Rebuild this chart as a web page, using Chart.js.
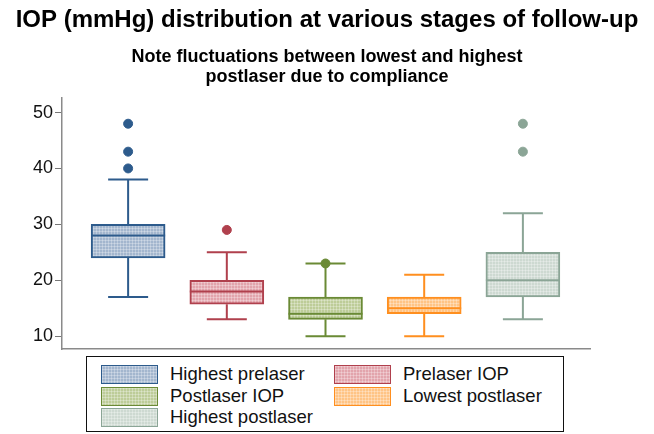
<!DOCTYPE html>
<html>
<head>
<meta charset="utf-8">
<script src="https://cdn.jsdelivr.net/npm/chart.js@4"></script>
<style>
  body { margin: 0; background: #fff; font-family: "Liberation Sans", Arial, sans-serif; }
  #wrap { position: relative; width: 654px; height: 434px; }
  #chart { position: absolute; left: 0; top: 0; }
  #legend {
    position: absolute; left: 86px; top: 356px; width: 478px; height: 76px;
    border: 1.5px solid #111; box-sizing: border-box; background: #fff;
  }
  .item { position: absolute; height: 20px; font-size: 18.5px; color: #111; line-height: 20px; white-space: nowrap; }
  .sw { position: absolute; left: 0; top: 1px; width: 57px; height: 19px; box-sizing: border-box; border: 1.5px solid; }
  .lbl { position: absolute; left: 69px; top: 0; }
</style>
</head>
<body>
<div id="wrap">
  <canvas id="chart" width="654" height="434"></canvas>
  <div id="legend"></div>
</div>
<script>
// Données
const groups = ['Highest prelaser', 'Prelaser IOP', 'Postlaser IOP', 'Lowest postlaser', 'Highest postlaser'];
const whiskerLow = [17, 13, 10, 10, 13];
const q1 = [24, 15.7, 13, 14, 17];
const median = [28, 18, 14, 15, 20];
const q3 = [30, 20, 17, 17, 25];
const whiskerHigh = [38, 25, 23, 21, 32];
const outliers = [[40, 43, 48], [29], [23], [], [43, 48]];
const yTicks = [10, 20, 30, 40, 50];

const strokeColors = ['#2d5b8c', '#b0404d', '#6a8a35', '#ff8f1f', '#8ba596'];
const fillColors = ['#a3b6ce', '#e2a4ac', '#bdcc98', '#ffc485', '#cdd9d1'];

// Motif quadrillé pour le remplissage des boîtes
function makePattern(color) {
    const c = document.createElement('canvas');
    c.width = 3; c.height = 3;
    const g = c.getContext('2d');
    g.fillStyle = color;
    g.fillRect(0, 0, 3, 3);
    g.fillStyle = 'rgba(255,255,255,0.28)';
    g.fillRect(0, 0, 3, 1);
    g.fillRect(0, 0, 1, 3);
    return g.createPattern(c, 'repeat');
}
const patterns = fillColors.map(makePattern);

// Moustaches (derrière) et médianes (devant)
const boxPlotLines = {
    id: 'boxPlotLines',
    beforeDatasetsDraw(chart) {
        const { ctx, scales: { x, y } } = chart;
        ctx.save();
        ctx.lineWidth = 2;
        groups.forEach((g, i) => {
            const cx = x.getPixelForValue(i);
            ctx.strokeStyle = strokeColors[i];
            ctx.beginPath();
            ctx.moveTo(cx, y.getPixelForValue(whiskerLow[i]));
            ctx.lineTo(cx, y.getPixelForValue(q1[i]));
            ctx.moveTo(cx, y.getPixelForValue(q3[i]));
            ctx.lineTo(cx, y.getPixelForValue(whiskerHigh[i]));
            [whiskerLow[i], whiskerHigh[i]].forEach(v => {
                const py = y.getPixelForValue(v);
                ctx.moveTo(cx - 20, py);
                ctx.lineTo(cx + 20, py);
            });
            ctx.stroke();
        });
        ctx.restore();
    },
    afterDatasetsDraw(chart) {
        const { ctx, scales: { x, y } } = chart;
        ctx.save();
        ctx.lineWidth = 2;
        groups.forEach((g, i) => {
            const cx = x.getPixelForValue(i);
            const py = y.getPixelForValue(median[i]);
            ctx.strokeStyle = strokeColors[i];
            ctx.beginPath();
            ctx.moveTo(cx - 37, py);
            ctx.lineTo(cx + 37, py);
            ctx.stroke();
        });
        ctx.restore();
    }
};

const outlierPoints = [];
const outlierColors = [];
outliers.forEach((list, i) => list.forEach(v => {
    outlierPoints.push({ x: i, y: v });
    outlierColors.push(strokeColors[i]);
}));

new Chart(document.getElementById('chart').getContext('2d'), {
    type: 'bar',
    data: {
        datasets: [{
            type: 'scatter',
            data: outlierPoints,
            pointRadius: 4.5,
            pointBackgroundColor: outlierColors,
            pointBorderColor: outlierColors,
            order: 0,
        }, {
            type: 'bar',
            data: groups.map((g, i) => ({ x: i, y: [q1[i], q3[i]] })),
            backgroundColor: patterns,
            borderColor: strokeColors,
            borderWidth: 2,
            borderSkipped: false,
            barThickness: 74,
            order: 1,
        }],
    },
    plugins: [boxPlotLines],
    options: {
        responsive: false,
        animation: false,
        layout: { padding: 0 },
        plugins: {
            legend: { display: false },
            tooltip: { enabled: false },
            title: {
                display: true,
                text: 'IOP (mmHg) distribution at various stages of follow-up',
                color: '#000',
                font: { family: 'Liberation Sans', size: 24, weight: 'bold', lineHeight: 1.2 },
                padding: { top: 6, bottom: 8 },
            },
            subtitle: {
                display: true,
                text: ['Note fluctuations between lowest and highest', 'postlaser due to compliance'],
                color: '#000',
                font: { family: 'Liberation Sans', size: 18, weight: 'bold', lineHeight: 1.1 },
                padding: { top: 4.3, bottom: 11.3 },
            },
        },
        scales: {
            x: {
                type: 'linear',
                offset: false,
                min: -0.67,
                max: 4.68,
                ticks: { display: false },
                grid: { display: false, offset: false },
                border: { display: true, color: '#8a8a8a', width: 1.5 },
                afterFit: axis => { axis.height = 85; },
            },
            y: {
                min: 7.7,
                max: 52.6,
                afterBuildTicks: axis => { axis.ticks = yTicks.map(v => ({ value: v })); },
                ticks: { color: '#111', font: { family: 'Liberation Sans', size: 18 }, padding: 2 },
                grid: { drawOnChartArea: false, drawTicks: true, tickLength: 7, color: '#777' },
                border: { display: true, color: '#8a8a8a', width: 1.5 },
                afterFit: axis => { axis.width = 62; },
            },
            // axe vide à droite pour réserver la marge
            yRight: {
                position: 'right',
                display: true,
                ticks: { display: false },
                grid: { display: false },
                border: { display: false },
                afterFit: axis => { axis.width = 64; },
            },
        },
    },
});

// Légende HTML sur deux colonnes
const legend = document.getElementById('legend');
const colX = [14, 247];
const rowY = [7, 29, 50];
groups.forEach((g, i) => {
    const item = document.createElement('div');
    item.className = 'item';
    item.style.left = colX[i % 2] + 'px';
    item.style.top = rowY[Math.floor(i / 2)] + 'px';
    const sw = document.createElement('div');
    sw.className = 'sw';
    sw.style.borderColor = strokeColors[i];
    sw.style.backgroundColor = fillColors[i];
    sw.style.backgroundImage = 'linear-gradient(rgba(255,255,255,0.28) 1px, transparent 1px), linear-gradient(90deg, rgba(255,255,255,0.28) 1px, transparent 1px)';
    sw.style.backgroundSize = '3px 3px';
    const lbl = document.createElement('span');
    lbl.className = 'lbl';
    lbl.textContent = g;
    item.appendChild(sw);
    item.appendChild(lbl);
    legend.appendChild(item);
});
</script>
</body>
</html>
